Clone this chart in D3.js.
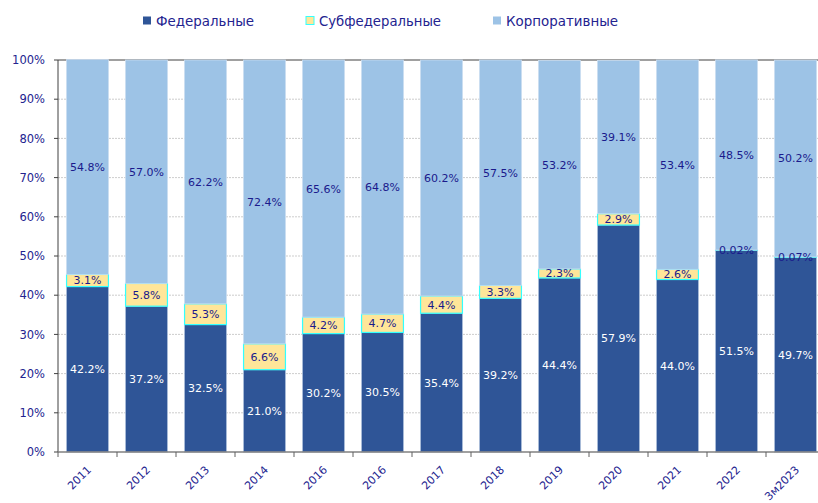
<!DOCTYPE html>
<html>
<head>
<meta charset="utf-8">
<script src="https://cdn.jsdelivr.net/npm/d3@7"></script>
<style>
  body { margin: 0; background: #fff; }
  svg text { font-family: "DejaVu Sans", Verdana, sans-serif; }
</style>
</head>
<body>
<div id="body"></div>
<script>
var years = ["2011","2012","2013","2014","2016","2016","2017","2018","2019","2020","2021","2022","3м2023"];
var federal = [42.2, 37.2, 32.5, 21.0, 30.2, 30.5, 35.4, 39.2, 44.4, 57.9, 44.0, 51.5, 49.7];
var subfederal = [3.1, 5.8, 5.3, 6.6, 4.2, 4.7, 4.4, 3.3, 2.3, 2.9, 2.6, 0.02, 0.07];
var corporate = [54.8, 57.0, 62.2, 72.4, 65.6, 64.8, 60.2, 57.5, 53.2, 39.1, 53.4, 48.5, 50.2];
var seriesNames = ["Федеральные", "Субфедеральные", "Корпоративные"];
var yTicks = [0, 10, 20, 30, 40, 50, 60, 70, 80, 90, 100];

var colors = ["#2f5597", "#ffe699", "#9dc3e6"];
var strokes = ["#a9bcd9", "#33ffff", "#c9dcf0"];
var labelColors = ["#ffffff", "#1a1a8c", "#1a1a8c"];
var navy = "#23238f";

var width = 818, height = 503;
var margin = {top: 60, left: 58, bottom: 51};
var plotRight = 825;

var svg = d3.select("#body").append("svg")
    .attr("width", width)
    .attr("height", height);

var x = d3.scaleBand()
    .domain(d3.range(years.length))
    .range([margin.left, plotRight])
    .paddingInner(0.29)
    .paddingOuter(0.145);

var y = d3.scaleLinear()
    .domain([0, 100])
    .range([height - margin.bottom, margin.top]);

// gridlines
svg.append("g").selectAll("line")
    .data(yTicks.filter(function(d) { return d > 0 && d < 100; }))
  .enter().append("line")
    .attr("x1", margin.left).attr("x2", width)
    .attr("y1", function(d) { return y(d); })
    .attr("y2", function(d) { return y(d); })
    .attr("stroke", "#c0c0c0")
    .attr("stroke-dasharray", "2,1")
    .attr("stroke-width", 0.8);

// top border
svg.append("line")
    .attr("x1", margin.left).attr("x2", width)
    .attr("y1", y(100)).attr("y2", y(100))
    .attr("stroke", "#808080").attr("stroke-width", 1.5);

// stack data
var rows = years.map(function(d, i) {
  return {i: i, values: [federal[i], subfederal[i], corporate[i]]};
});

var segs = [];
rows.forEach(function(r) {
  var acc = 0;
  r.values.forEach(function(v, k) {
    segs.push({i: r.i, k: k, y0: acc, y1: acc + v, v: v});
    acc += v;
  });
});

svg.append("g").selectAll("rect")
    .data(segs)
  .enter().append("rect")
    .attr("x", function(d) { return x(d.i); })
    .attr("width", x.bandwidth())
    .attr("y", function(d) { return y(d.y1); })
    .attr("height", function(d) { return y(d.y0) - y(d.y1); })
    .attr("fill", function(d) { return colors[d.k]; })
    .attr("stroke", function(d) { return strokes[d.k]; })
    .attr("stroke-width", function(d) { return d.k == 1 ? 1.2 : 0.8; });

function fmt(v) {
  return v < 0.1 ? v.toFixed(2) + "%" : v.toFixed(1) + "%";
}

svg.append("g").selectAll("text")
    .data(segs)
  .enter().append("text")
    .attr("x", function(d) { return x(d.i) + x.bandwidth() / 2; })
    .attr("y", function(d) { return y((d.y0 + d.y1) / 2); })
    .attr("dy", "0.36em")
    .attr("text-anchor", "middle")
    .attr("font-size", 11)
    .attr("fill", function(d) { return labelColors[d.k]; })
    .text(function(d) { return fmt(d.v); });

// y axis
svg.append("line")
    .attr("x1", margin.left).attr("x2", margin.left)
    .attr("y1", y(100)).attr("y2", y(0))
    .attr("stroke", "#404040").attr("stroke-width", 1);

svg.append("g").selectAll("line")
    .data(yTicks)
  .enter().append("line")
    .attr("x1", margin.left - 4).attr("x2", margin.left)
    .attr("y1", function(d) { return y(d); })
    .attr("y2", function(d) { return y(d); })
    .attr("stroke", "#404040");

svg.append("g").selectAll("text")
    .data(yTicks)
  .enter().append("text")
    .attr("x", 45)
    .attr("y", function(d) { return y(d); })
    .attr("dy", "0.36em")
    .attr("text-anchor", "end")
    .attr("font-size", 11.5)
    .attr("fill", navy)
    .text(function(d) { return d + "%"; });

// x axis
svg.append("line")
    .attr("x1", margin.left).attr("x2", width)
    .attr("y1", y(0)).attr("y2", y(0))
    .attr("stroke", "#808080").attr("stroke-width", 1.5);

svg.append("g").selectAll("line")
    .data(d3.range(years.length + 1))
  .enter().append("line")
    .attr("x1", function(d) { return margin.left + d * x.step(); })
    .attr("x2", function(d) { return margin.left + d * x.step(); })
    .attr("y1", y(0)).attr("y2", y(0) + 5)
    .attr("stroke", "#606060");

svg.append("g").selectAll("text")
    .data(years)
  .enter().append("text")
    .attr("transform", function(d, i) {
      return "translate(" + (x(i) + x.bandwidth() / 2 - 1) + "," + (y(0) + 13) + ") rotate(-45)";
    })
    .attr("text-anchor", "end")
    .attr("dy", "0.7em")
    .attr("font-size", 11)
    .attr("fill", navy)
    .text(function(d) { return d; });

// legend
var legendX = [143, 306, 493];
var legendLen = [98, 122, 112];
var legend = svg.append("g")
  .selectAll("g")
    .data(seriesNames)
  .enter().append("g")
    .attr("transform", function(d, i) { return "translate(" + legendX[i] + ",16.5)"; });

legend.append("rect")
    .attr("width", 8).attr("height", 8)
    .attr("fill", function(d, i) { return colors[i]; })
    .attr("stroke", function(d, i) { return i == 1 ? "#33ffff" : "none"; })
    .attr("stroke-width", 1);

legend.append("text")
    .attr("x", 13)
    .attr("y", 4)
    .attr("dy", "0.36em")
    .attr("font-size", 14)
    .attr("textLength", function(d, i) { return legendLen[i]; })
    .attr("lengthAdjust", "spacingAndGlyphs")
    .attr("fill", navy)
    .text(function(d) { return d; });
</script>
</body>
</html>
